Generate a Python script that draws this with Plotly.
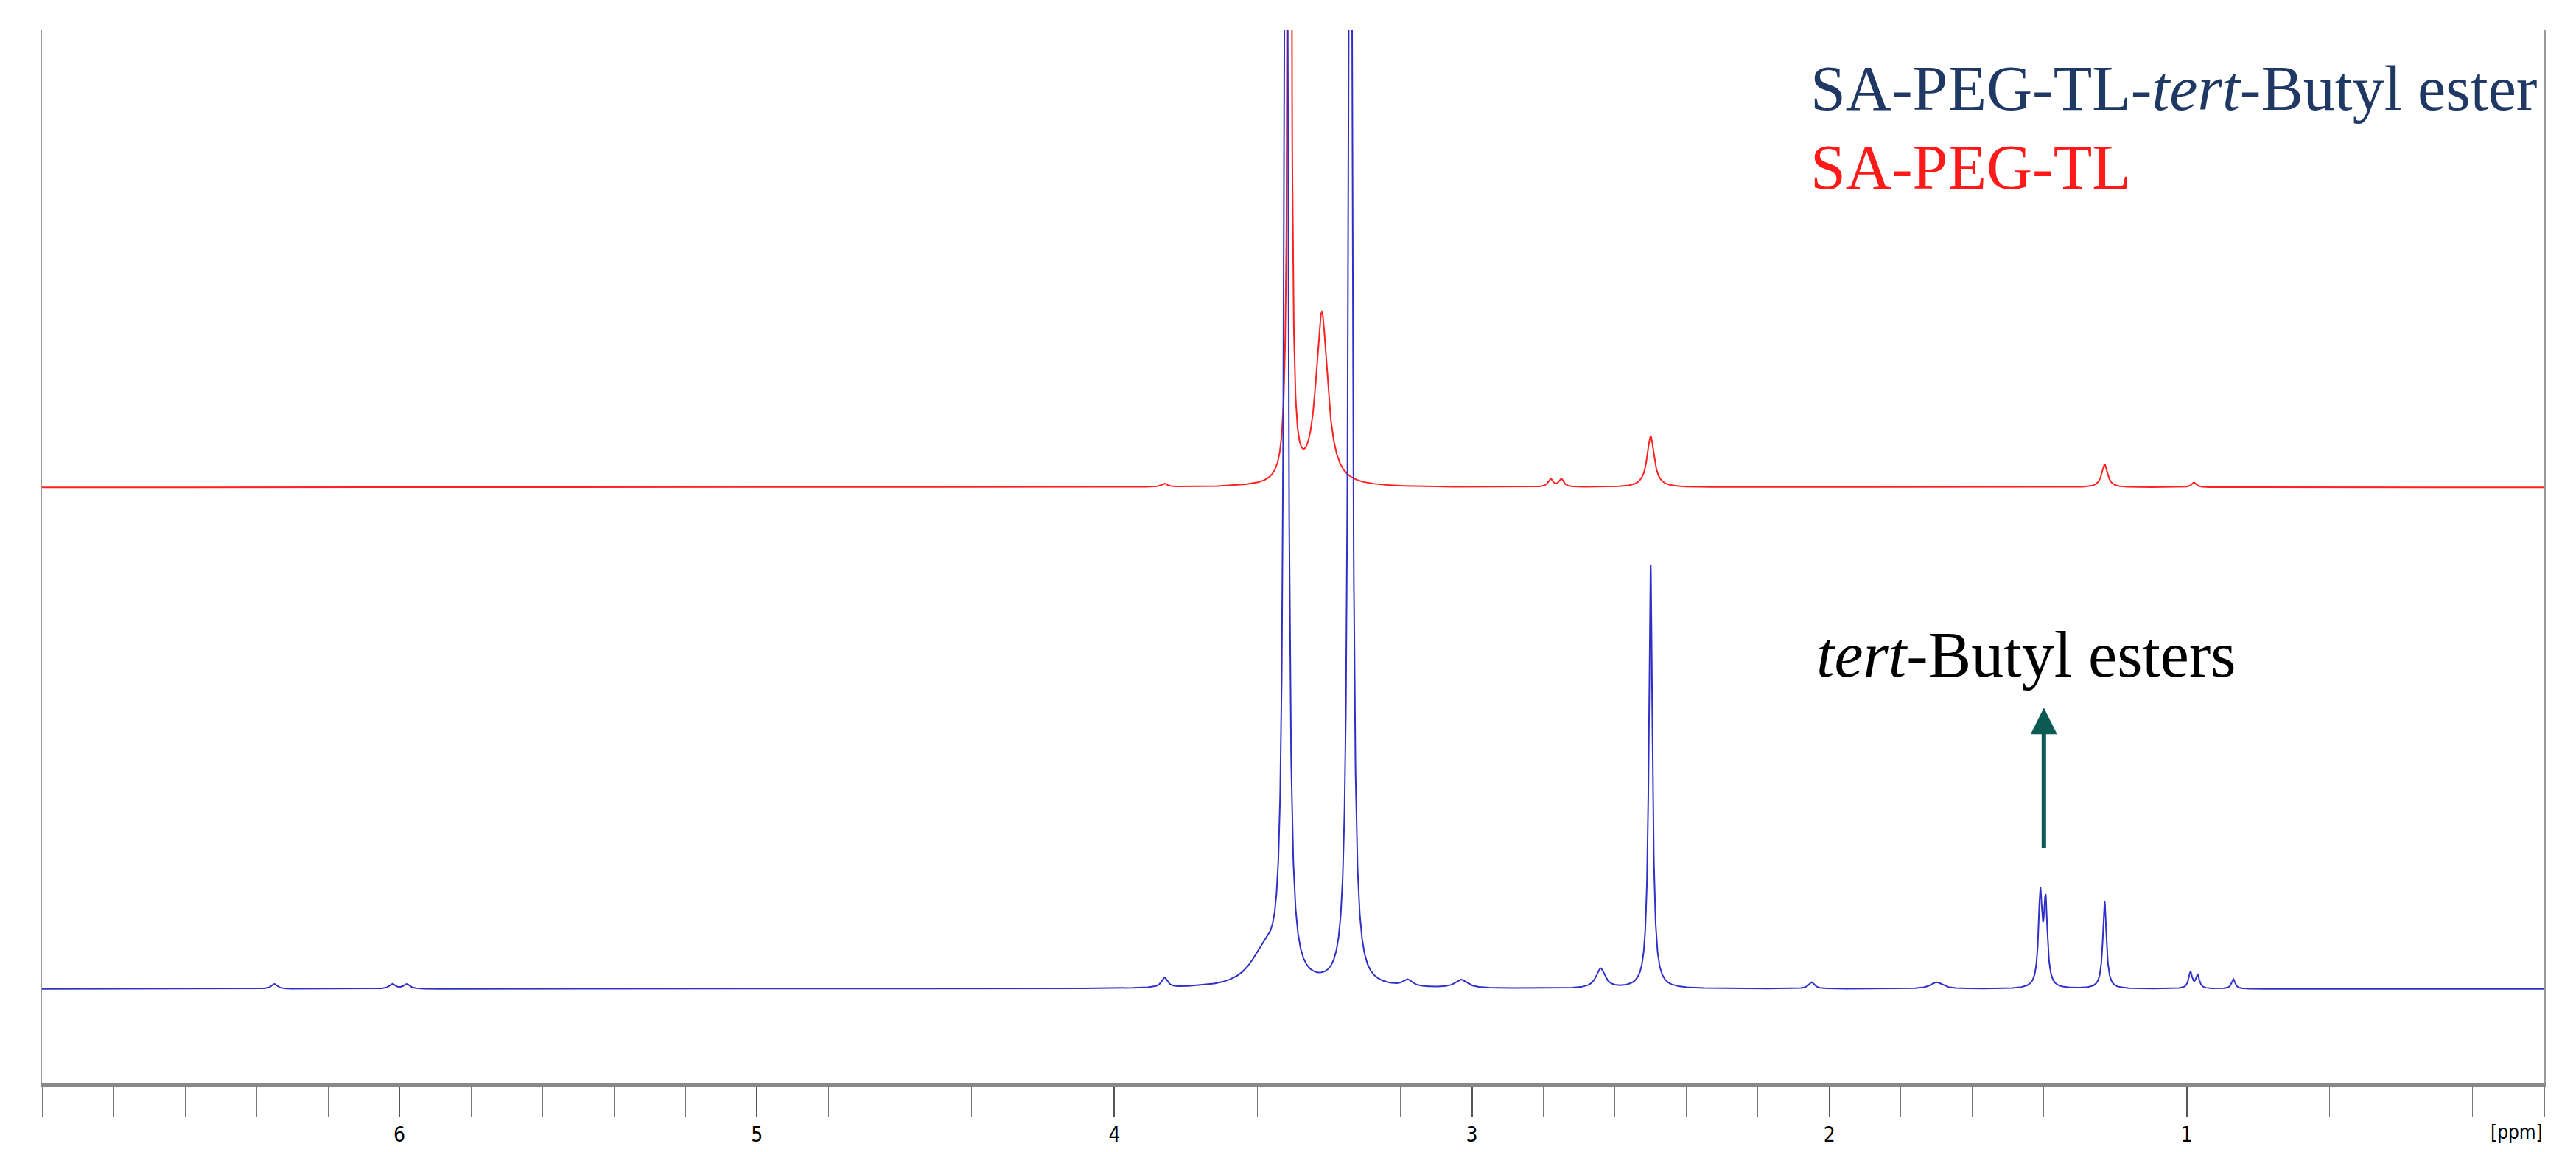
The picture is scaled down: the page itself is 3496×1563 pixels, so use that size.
import numpy as np
import plotly.graph_objects as go

# peak tables (ppm, height, half-width ppm); heights in display units
blue_pos = [6.35, 6.02, 5.98, 3.86, 3.58, 3.52, 3.34, 3.18, 3.03, 2.64, 2.50, 2.05, 1.70, 1.41, 1.395, 1.23, 0.99, 0.97, 0.87]
blue_h   = [3, 3, 3, 6, 20, 900, 900, 4, 5, 12, 258, 4, 4, 55, 50, 53, 10, 8, 6]
blue_w   = [0.01, 0.01, 0.01, 0.01, 0.05, 0.006, 0.006, 0.015, 0.02, 0.015, 0.006, 0.01, 0.02, 0.006, 0.006, 0.006, 0.006, 0.006, 0.006]
red_pos  = [3.86, 3.51, 3.42, 2.78, 2.75, 2.50, 1.23, 0.98]
red_h    = [2, 900, 105, 5, 5, 31, 14, 3]
red_w    = [0.01, 0.004, 0.02, 0.008, 0.008, 0.012, 0.01, 0.008]
blue_base, red_base = 57, 362
tick_vals = [6, 5, 4, 3, 2, 1]

x = np.linspace(7.0, 0.0, 14000)
def spec(pos, h, w, base):
    y = np.full_like(x, base, dtype=float)
    for p, a, g in zip(pos, h, w):
        y += a * g**2 / ((x - p)**2 + g**2)
    return y

fig = go.Figure()
fig.add_trace(go.Scatter(x=x, y=spec(red_pos, red_h, red_w, red_base), mode="lines",
                         line=dict(color="#ff2020", width=2), hoverinfo="skip"))
fig.add_trace(go.Scatter(x=x, y=spec(blue_pos, blue_h, blue_w, blue_base), mode="lines",
                         line=dict(color="#3030c8", width=2), hoverinfo="skip"))

font = "Liberation Serif"
fig.add_annotation(x=0.706, xref="paper", y=0.945, yref="paper", xanchor="left", yanchor="middle",
                   text="SA-PEG-TL-<i>tert</i>-Butyl ester", showarrow=False,
                   font=dict(family=font, size=86, color="#1f3864"))
fig.add_annotation(x=0.706, xref="paper", y=0.87, yref="paper", xanchor="left", yanchor="middle",
                   text="SA-PEG-TL", showarrow=False, font=dict(family=font, size=86, color="#ff1a1a"))
fig.add_annotation(x=1.45, y=260, xanchor="center", yanchor="middle",
                   text="<i>tert</i>-Butyl esters", showarrow=False, font=dict(family=font, size=88, color="black"))
fig.add_annotation(x=1.40, y=228, ax=1.40, ay=142, axref="x", ayref="y", xref="x", yref="y",
                   text="", showarrow=True, arrowhead=2, arrowsize=1.2, arrowwidth=6, arrowcolor="#0b5b52")
fig.add_annotation(x=1.0, xref="paper", y=-0.035, yref="paper", xanchor="right", yanchor="top",
                   text="[ppm]", showarrow=False, font=dict(family="DejaVu Sans Condensed", size=26, color="black"))

fig.update_layout(width=3496, height=1563, showlegend=False, plot_bgcolor="white", paper_bgcolor="white",
                  margin=dict(l=49, r=51, t=33, b=102))
fig.update_xaxes(range=[7.0, 0.0], tickvals=tick_vals, ticktext=[str(t) for t in tick_vals],
                 ticks="outside", ticklen=40, tickcolor="#555", tickwidth=2,
                 minor=dict(dtick=0.2, ticks="outside", ticklen=40, tickcolor="#777", tickwidth=1),
                 showgrid=False, showline=True, linecolor="#888", linewidth=6, mirror=False,
                 tickfont=dict(family="DejaVu Sans Condensed", size=28, color="black"), zeroline=False)
fig.update_yaxes(range=[0, 640], showticklabels=False, showgrid=False, zeroline=False,
                 showline=True, linecolor="#999", linewidth=2, mirror=True)
fig.write_html("out.html")
